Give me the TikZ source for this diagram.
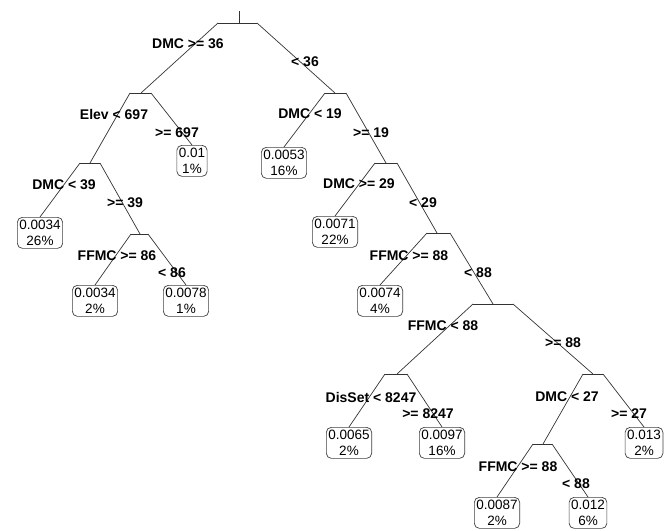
\documentclass[tikz,border=0pt]{standalone}
\usepackage{fontspec}
\setmainfont{Liberation Sans}
\begin{document}
\begin{tikzpicture}[x=1pt,y=-1pt,
  edge/.style={draw=black!80, line width=0.7pt},
  leaf/.style={draw=black!75, line width=0.7pt, rounded corners=5pt, fill=white, align=center,
    font=\fontsize{13.5}{15.5}\selectfont, inner xsep=2pt, inner ysep=2.5pt,
    minimum height=31pt, anchor=north},
  lab/.style={font=\bfseries\fontsize{14}{16}\selectfont, inner sep=0pt}]
\useasboundingbox (0,0) rectangle (669,530);
\newcommand\mkbar[5]{%
  \coordinate (#1-l) at (#2,#5);
  \coordinate (#1) at (#3,#5);
  \coordinate (#1-r) at (#4,#5);
  \draw[edge] (#1-l) -- (#1-r);}
% split bars
\mkbar{root}{218}{239}{257}{23}
\coordinate (top) at (239,11);
\draw[edge] (top) -- (root);
\mkbar{elev}{130}{141}{151}{93}
\mkbar{dmcA}{325}{335}{346}{93}
\mkbar{dmcB}{80}{90}{100}{163}
\mkbar{ffmcA}{131}{140}{148}{234}
\mkbar{dmcC}{375}{386}{397}{163}
\mkbar{ffmcB}{427}{437}{450}{233}
\mkbar{ffmcC}{473}{493}{513}{304}
\mkbar{dis}{385}{397}{407}{374}
\mkbar{dmcD}{583}{593}{603}{374}
\mkbar{ffmcD}{533}{543}{552}{444}
% leaves
\node[leaf] (L1) at (192,145) {0.01\\1\%};
\node[leaf] (L2) at (284,147) {0.0053\\16\%};
\node[leaf] (L3) at (40,217) {0.0034\\26\%};
\node[leaf] (L4) at (95,285) {0.0034\\2\%};
\node[leaf] (L5) at (186,285) {0.0078\\1\%};
\node[leaf] (L6) at (335,216) {0.0071\\22\%};
\node[leaf] (L7) at (380,285) {0.0074\\4\%};
\node[leaf] (L8) at (349,427) {0.0065\\2\%};
\node[leaf] (L9) at (442,427) {0.0097\\16\%};
\node[leaf] (L10) at (644,427) {0.013\\2\%};
\node[leaf] (L11) at (497,497) {0.0087\\2\%};
\node[leaf] (L12) at (588,497) {0.012\\6\%};
% connectors
\draw[edge] (root-l) -- (elev);
\draw[edge] (root-r) -- (dmcA);
\draw[edge] (elev-l) -- (dmcB);
\draw[edge] (elev-r) -- (L1.north);
\draw[edge] (dmcA-l) -- (L2.north);
\draw[edge] (dmcA-r) -- (dmcC);
\draw[edge] (dmcB-l) -- (L3.north);
\draw[edge] (dmcB-r) -- (ffmcA);
\draw[edge] (ffmcA-l) -- (L4.north);
\draw[edge] (ffmcA-r) -- (L5.north);
\draw[edge] (dmcC-l) -- (L6.north);
\draw[edge] (dmcC-r) -- (ffmcB);
\draw[edge] (ffmcB-l) -- (L7.north);
\draw[edge] (ffmcB-r) -- (ffmcC);
\draw[edge] (ffmcC-l) -- (dis);
\draw[edge] (ffmcC-r) -- (dmcD);
\draw[edge] (dis-l) -- (L8.north);
\draw[edge] (dis-r) -- (L9.north);
\draw[edge] (dmcD-l) -- (ffmcD);
\draw[edge] (dmcD-r) -- (L10.north);
\draw[edge] (ffmcD-l) -- (L11.north);
\draw[edge] (ffmcD-r) -- (L12.north);
% labels
\node[lab] (t1) at (188,44) {DMC >= 36};
\node[lab] (t2) at (305,62) {< 36};
\node[lab] (t3) at (114,114) {Elev < 697};
\node[lab] (t4) at (177,133) {>= 697};
\node[lab] (t5) at (310,114) {DMC < 19};
\node[lab] (t6) at (371,133) {>= 19};
\node[lab] (t7) at (64,185) {DMC < 39};
\node[lab] (t8) at (125,203) {>= 39};
\node[lab] (t9) at (117,256) {FFMC >= 86};
\node[lab] (t10) at (172,273) {< 86};
\node[lab] (t11) at (359,184) {DMC >= 29};
\node[lab] (t12) at (423,203) {< 29};
\node[lab] (t13) at (409,256) {FFMC >= 88};
\node[lab] (t14) at (478,273) {< 88};
\node[lab] (t15) at (443,326) {FFMC < 88};
\node[lab] (t16) at (563,343) {>= 88};
\node[lab] (t17) at (371,397) {DisSet < 8247};
\node[lab] (t18) at (428,414) {>= 8247};
\node[lab] (t19) at (567,397) {DMC < 27};
\node[lab] (t20) at (629,414) {>= 27};
\node[lab] (t21) at (518,467) {FFMC >= 88};
\node[lab] (t22) at (576,484) {< 88};
\end{tikzpicture}
\end{document}
